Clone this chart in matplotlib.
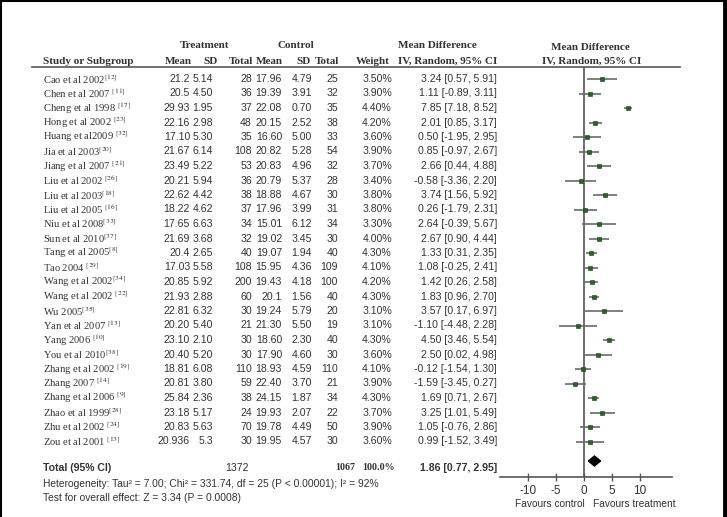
import matplotlib
matplotlib.use("Agg")
import matplotlib.pyplot as plt
from matplotlib.lines import Line2D

# data
studies = ["Cao et al 2002", "Chen et al 2007 ", "Cheng et al 1998 ", "Hong et al 2002 ",
           "Huang et al2009 ", "Jia et al 2003", "Jiang et al 2007 ", "Liu et al 2002 ",
           "Liu et al 2003", "Liu et al 2005 ", "Niu et al 2008", "Sun et al 2010",
           "Tang et al 2005", "Tao 2004 ", "Wang et al 2002", "Wang et al 2002 ",
           "Wu 2005", "Yan et al 2007 ", "Yang 2006 ", "You et al 2010",
           "Zhang et al 2002 ", "Zhang 2007 ", "Zhang et al 2006 ", "Zhao et al 1999",
           "Zhu et al 2002 ", "Zou et al 2001 "]
refs = ["12", "11", "17", "23", "32", "20", "21", "26", "18", "16", "33", "37", "8",
        "29", "34", "22", "35", "13", "10", "38", "19", "14", "9", "28", "24", "13"]

t_mean = ["21.2", "20.5", "29.93", "22.16", "17.10", "21.67", "23.49", "20.21", "22.62",
          "18.22", "17.65", "21.69", "20.4", "17.03", "20.85", "21.93", "22.81", "20.20",
          "23.10", "20.40", "18.81", "20.81", "25.84", "23.18", "20.83", "20.936"]
t_sd = ["5.14", "4.50", "1.95", "2.98", "5.30", "6.14", "5.22", "5.94", "4.42", "4.62",
        "6.63", "3.68", "2.65", "5.58", "5.92", "2.88", "6.32", "5.40", "2.10", "5.20",
        "6.08", "3.80", "2.36", "5.17", "5.63", "5.3"]
t_n = [28, 36, 37, 48, 35, 108, 53, 36, 38, 37, 34, 32, 40, 108, 200, 60, 30, 21, 30, 30,
       110, 59, 38, 24, 70, 30]
c_mean = ["17.96", "19.39", "22.08", "20.15", "16.60", "20.82", "20.83", "20.79", "18.88",
          "17.96", "15.01", "19.02", "19.07", "15.95", "19.43", "20.1", "19.24", "21.30",
          "18.60", "17.90", "18.93", "22.40", "24.15", "19.93", "19.78", "19.95"]
c_sd = ["4.79", "3.91", "0.70", "2.52", "5.00", "5.28", "4.96", "5.37", "4.67", "3.99",
        "6.12", "3.45", "1.94", "4.36", "4.18", "1.56", "5.79", "5.50", "2.30", "4.60",
        "4.59", "3.70", "1.87", "2.07", "4.49", "4.57"]
c_n = [25, 32, 35, 38, 33, 54, 32, 28, 30, 31, 34, 30, 40, 109, 100, 40, 20, 19, 40, 30,
       110, 21, 34, 22, 50, 30]
weight = [3.50, 3.90, 4.40, 4.20, 3.60, 3.90, 3.70, 3.40, 3.80, 3.80, 3.30, 4.00, 4.30,
          4.10, 4.20, 4.30, 3.10, 3.10, 4.30, 3.60, 4.10, 3.90, 4.30, 3.70, 3.90, 3.60]
md = [3.24, 1.11, 7.85, 2.01, 0.50, 0.85, 2.66, -0.58, 3.74, 0.26, 2.64, 2.67, 1.33,
      1.08, 1.42, 1.83, 3.57, -1.10, 4.50, 2.50, -0.12, -1.59, 1.69, 3.25, 1.05, 0.99]
lo = [0.57, -0.89, 7.18, 0.85, -1.95, -0.97, 0.44, -3.36, 1.56, -1.79, -0.39, 0.90, 0.31,
      -0.25, 0.26, 0.96, 0.17, -4.48, 3.46, 0.02, -1.54, -3.45, 0.71, 1.01, -0.76, -1.52]
hi = [5.91, 3.11, 8.52, 3.17, 2.95, 2.67, 4.88, 2.20, 5.92, 2.31, 5.67, 4.44, 2.35,
      2.41, 2.58, 2.70, 6.97, 2.28, 5.54, 4.98, 1.30, 0.27, 2.67, 5.49, 2.86, 3.49]

total_md, total_lo, total_hi = 1.86, 0.77, 2.95
ticks = [-10, -5, 0, 5, 10]

# fonts / colours
serif = "Liberation Serif"
sans = "Liberation Sans"
txt = "#333333"
plt.rcParams["mathtext.fontset"] = "stix"

W, H = 727, 517
fig = plt.figure(figsize=(W / 100, H / 100), dpi=100)

# table layer in pixel units
tab = fig.add_axes([0, 0, 1, 1])
tab.set_xlim(0, W)
tab.set_ylim(H, 0)
tab.axis("off")

row0, step = 79, 14.5
rows = list(range(len(studies)))

def ypix(i):
    return row0 + step * i

# headers
hkw = dict(family=serif, fontweight="bold", fontsize=8, color=txt, va="center")
tab.text(205, 46, "Treatment", ha="center", **hkw)
tab.text(296, 46, "Control", ha="center", **hkw)
tab.text(398, 46, "Mean Difference", ha="left", **hkw)
tab.text(398, 61, "IV, Random, 95% CI", ha="left", **hkw)
tab.text(590, 47, "Mean Difference", ha="center", **hkw)
tab.text(592, 61, "IV, Random, 95% CI", ha="center", **hkw)
tab.text(43, 62, "Study or Subgroup", ha="left", **hkw)
for x, s in [(192, "Mean"), (218, "SD"), (253, "Total"), (283, "Mean"),
             (311, "SD"), (339, "Total"), (390, "Weight")]:
    tab.text(x, 62, s, ha="right", **hkw)
tab.plot([32, 680], [67, 67], color="#555555", lw=1.2)

# study rows
nkw = dict(family=sans, fontsize=7.6, color=txt, va="center", ha="right")
for i in rows:
    y = ypix(i)
    tab.text(43, y, studies[i] + r"$^{[" + refs[i] + r"]}$", family=serif,
             fontsize=7.6, color=txt, va="center", ha="left")
    tab.text(190, y, t_mean[i], **nkw)
    tab.text(213, y, t_sd[i], **nkw)
    tab.text(252, y, str(t_n[i]), **nkw)
    tab.text(282, y, c_mean[i], **nkw)
    tab.text(312, y, c_sd[i], **nkw)
    tab.text(338, y, str(c_n[i]), **nkw)
    tab.text(392, y, f"{weight[i]:.2f}%", **nkw)
    tab.text(497, y, f"{md[i]:.2f} [{lo[i]:.2f}, {hi[i]:.2f}]", **nkw)

# total row
ty = 468
bkw = dict(family=sans, fontsize=7.6, fontweight="bold", color=txt, va="center")
skw = dict(family=serif, fontsize=7.2, fontweight="bold", color=txt, va="center")
tab.text(43, ty, "Total (95% CI)", ha="left", **bkw)
tab.text(249, ty, str(sum(t_n)), ha="right", family=sans, fontsize=7.6,
         color=txt, va="center")
tab.text(355, ty, str(sum(c_n)), ha="right", **skw)
tab.text(362, ty, "100.0%", ha="left", **skw)
tab.text(497, ty, f"{total_md:.2f} [{total_lo:.2f}, {total_hi:.2f}]", ha="right", **bkw)
tab.text(43, 484, "Heterogeneity: Tau\u00b2 = 7.00; Chi\u00b2 = 331.74, df = 25 (P < 0.00001); I\u00b2 = 92%",
         family=sans, fontsize=7.4, color=txt, va="center", ha="left")
tab.text(43, 498, "Test for overall effect: Z = 3.34 (P = 0.0008)",
         family=sans, fontsize=7.4, color=txt, va="center", ha="left")

# forest plot panel
top_px, bot_px = 67, 477
ax = fig.add_axes([500 / W, 1 - bot_px / H, 172 / W, (bot_px - top_px) / H])
ax.patch.set_alpha(0)
ax.set_xlim(-15, 15.7)
ymin = (top_px - row0) / step
ymax = (bot_px - row0) / step
ax.set_ylim(ymax, ymin)
for s in ["top", "left", "right"]:
    ax.spines[s].set_visible(False)
ax.spines["bottom"].set_color("#555555")
ax.spines["bottom"].set_linewidth(1.2)
ax.set_yticks([])
ax.set_xticks(ticks)
ax.set_xticklabels([str(t) for t in ticks], family=sans, fontsize=8.5, color=txt)
ax.tick_params(axis="x", direction="inout", length=6, width=1, color="#555555", pad=3)
ax.axvline(0, color="#555555", lw=1.2)

for i in rows:
    ax.plot([lo[i], hi[i]], [i, i], color="#6a6a6a", lw=1.2, solid_capstyle="butt")
    ax.plot(md[i], i, marker="s", ms=weight[i] * 0.7, color="#1e6b1e",
            mec="#143f14", mew=0.4)

dy = (461 - row0) / step
half = 5 / step
ax.fill([total_lo, total_md, total_hi, total_md],
        [dy, dy - half, dy, dy + half], color="black")

tab.text(550, 504, "Favours control", family=sans, fontsize=7.3, color=txt,
         ha="center", va="center")
tab.text(634, 504, "Favours treatment", family=sans, fontsize=7.3, color=txt,
         ha="center", va="center")

# outer frame (left, top, right)
fig.add_artist(Line2D([1 / W, 1 / W], [0, 1], color="black", lw=1.5))
fig.add_artist(Line2D([0, 1], [1 - 1 / H, 1 - 1 / H], color="black", lw=1.5))
fig.add_artist(Line2D([724.5 / W, 724.5 / W], [0, 1], color="black", lw=3.5))

fig.savefig("out.png", dpi=100)
